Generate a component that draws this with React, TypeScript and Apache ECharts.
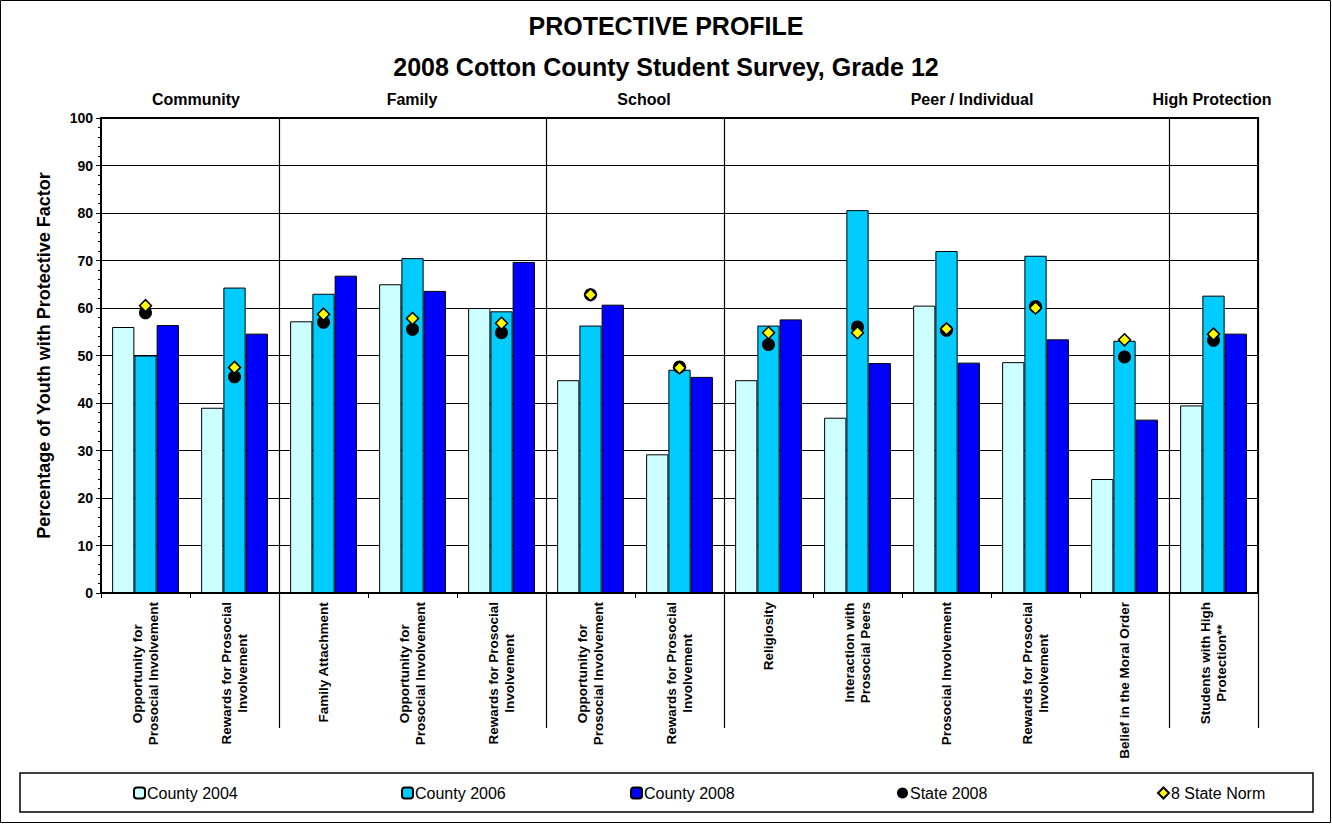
import React, { useEffect, useRef } from "react";
import * as echarts from "echarts";

const categories = [
  "Opportunity for\nProsocial Involvement",
  "Rewards for Prosocial\nInvolvement",
  "Family Attachment",
  "Opportunity for\nProsocial Involvement",
  "Rewards for Prosocial\nInvolvement",
  "Opportunity for\nProsocial Involvement",
  "Rewards for Prosocial\nInvolvement",
  "Religiosity",
  "Interaction with\nProsocial Peers",
  "Prosocial Involvement",
  "Rewards for Prosocial\nInvolvement",
  "Belief in the Moral Order",
  "Students with High\nProtection**",
];

const county2004 = [56, 39, 57.2, 65, 60, 44.8, 29.2, 44.8, 36.9, 60.5, 48.6, 24, 39.5];
const county2006 = [50, 64.3, 63, 70.5, 59.3, 56.3, 47, 56.3, 80.6, 72, 71, 53.1, 62.6];
const county2008 = [56.4, 54.6, 66.8, 63.6, 69.7, 60.7, 45.5, 57.6, 48.4, 48.5, 53.4, 36.5, 54.6];
const state2008 = [59, 45.5, 57, 55.5, 54.8, 62.8, 47.6, 52.3, 56, 55.3, 60.3, 49.7, 53.2];
const stateNorm = [60.5, 47.5, 58.7, 57.8, 56.8, 62.8, 47.4, 54.8, 54.8, 55.6, 60, 53.3, 54.5];

const sections = ["Community", "Family", "School", "Peer / Individual", "High Protection"];
const sectionCenters = [196, 412, 644, 972, 1212];
const separatorIndexes = [2, 5, 7, 12];

const yTicks = { min: 0, max: 100, interval: 10 };

const FONT = "Arial, 'Liberation Sans', sans-serif";

export default function App() {
  const ref = useRef<HTMLDivElement>(null);
  useEffect(() => {
    if (!ref.current) return;
    const chart = echarts.init(ref.current, undefined, { renderer: "svg" });
    const barBorder = { borderColor: "#000", borderWidth: 1 };
    const legendBase = {
      top: 785,
      itemWidth: 11,
      itemHeight: 11,
      itemGap: 4,
      textStyle: { fontFamily: FONT, fontSize: 16, color: "#000", padding: [0, 0, 0, -3] },
      padding: 0,
    };
    const option: any = {
      animation: false,
      backgroundColor: "#fff",
      textStyle: { fontFamily: FONT },
      title: [
        {
          text: "PROTECTIVE PROFILE",
          left: "center",
          top: 8,
          textStyle: { fontFamily: FONT, fontSize: 25, fontWeight: "bold", color: "#000" },
        },
        {
          text: "2008 Cotton County Student Survey, Grade 12",
          left: "center",
          top: 49,
          textStyle: { fontFamily: FONT, fontSize: 25, fontWeight: "bold", color: "#000" },
        },
      ],
      graphic: [
        {
          type: "rect",
          shape: { x: 0.5, y: 0.5, width: 1330, height: 822 },
          style: { fill: "none", stroke: "#000", lineWidth: 1 },
          silent: true,
        },
        {
          type: "rect",
          shape: { x: 20, y: 773, width: 1293, height: 39 },
          style: { fill: "none", stroke: "#000", lineWidth: 1.5 },
          silent: true,
        },
        ...sections.map((s, i) => ({
          type: "text",
          x: sectionCenters[i],
          y: 99,
          style: {
            text: s,
            fontFamily: FONT,
            fontSize: 16,
            fontWeight: "bold",
            fill: "#000",
            align: "center",
            verticalAlign: "middle",
          },
        })),
      ],
      legend: [
        { ...legendBase, left: 133, data: ["County 2004"] },
        { ...legendBase, left: 401, data: ["County 2006"] },
        { ...legendBase, left: 630, data: ["County 2008"] },
        { ...legendBase, left: 897, data: ["State 2008"] },
        { ...legendBase, left: 1157, data: ["8 State Norm"] },
      ],
      grid: {
        left: 101,
        right: 74,
        top: 118,
        bottom: 231,
        show: true,
        borderColor: "#000",
        borderWidth: 2,
        backgroundColor: "transparent",
      },
      xAxis: [
        {
          type: "category",
          data: categories,
          position: "bottom",
          axisLine: { lineStyle: { color: "#000", width: 2 } },
          axisTick: { show: true, length: 5, lineStyle: { color: "#000", width: 1 } },
          axisLabel: {
            interval: 0,
            rotate: 90,
            margin: 9,
            color: "#000",
            formatter: (v: string) =>
              v
                .split("\n")
                .map((l) => `{c|${l}}`)
                .join("\n"),
            rich: {
              c: {
                align: "center",
                fontFamily: FONT,
                fontSize: 13.5,
                fontWeight: "bold",
                color: "#000",
                lineHeight: 16,
              },
            },
          },
          splitLine: {
            show: true,
            interval: (i: number) => separatorIndexes.includes(i),
            lineStyle: { color: "#000", width: 1.2 },
          },
        },
        {
          type: "category",
          data: categories,
          position: "bottom",
          offset: 0,
          axisLine: { show: false },
          axisTick: {
            show: true,
            length: 135,
            interval: (i: number) => separatorIndexes.includes(i),
            lineStyle: { color: "#000", width: 1.2 },
          },
          axisLabel: { show: false },
          splitLine: { show: false },
        },
      ],
      yAxis: {
        type: "value",
        min: yTicks.min,
        max: yTicks.max,
        interval: yTicks.interval,
        name: "Percentage of Youth with Protective Factor",
        nameLocation: "middle",
        nameRotate: 90,
        nameGap: 48,
        nameTextStyle: { fontFamily: FONT, fontSize: 18, fontWeight: "bold", color: "#000" },
        axisLine: { show: true, lineStyle: { color: "#000", width: 2 } },
        axisTick: { show: true, length: 5, lineStyle: { color: "#000" } },
        minorTick: { show: true, splitNumber: 5, length: 3, lineStyle: { color: "#000" } },
        axisLabel: { fontFamily: FONT, fontSize: 14, fontWeight: "bold", color: "#000", margin: 8 },
        splitLine: { show: true, lineStyle: { color: "#000", width: 1 } },
      },
      series: [
        {
          name: "County 2004",
          type: "bar",
          data: county2004,
          barGap: "0%",
          barCategoryGap: "25%",
          itemStyle: { color: "#CCFFFF", ...barBorder },
        },
        {
          name: "County 2006",
          type: "bar",
          data: county2006,
          barGap: "0%",
          barCategoryGap: "25%",
          itemStyle: { color: "#00CCFF", ...barBorder },
        },
        {
          name: "County 2008",
          type: "bar",
          data: county2008,
          barGap: "0%",
          barCategoryGap: "25%",
          itemStyle: { color: "#0000FF", ...barBorder },
        },
        {
          name: "State 2008",
          type: "scatter",
          data: state2008,
          symbol: "circle",
          symbolSize: 13,
          itemStyle: { color: "#000", opacity: 1 },
          z: 3,
        },
        {
          name: "8 State Norm",
          type: "scatter",
          data: stateNorm,
          symbol: "diamond",
          symbolSize: 12,
          itemStyle: { color: "#FFFF00", borderColor: "#000", borderWidth: 1.5, opacity: 1 },
          z: 4,
        },
      ],
    };
    chart.setOption(option);
    return () => chart.dispose();
  }, []);
  return (
    <div
      ref={ref}
      style={{ position: "absolute", left: 0, top: 0, width: 1332, height: 824 }}
    />
  );
}
